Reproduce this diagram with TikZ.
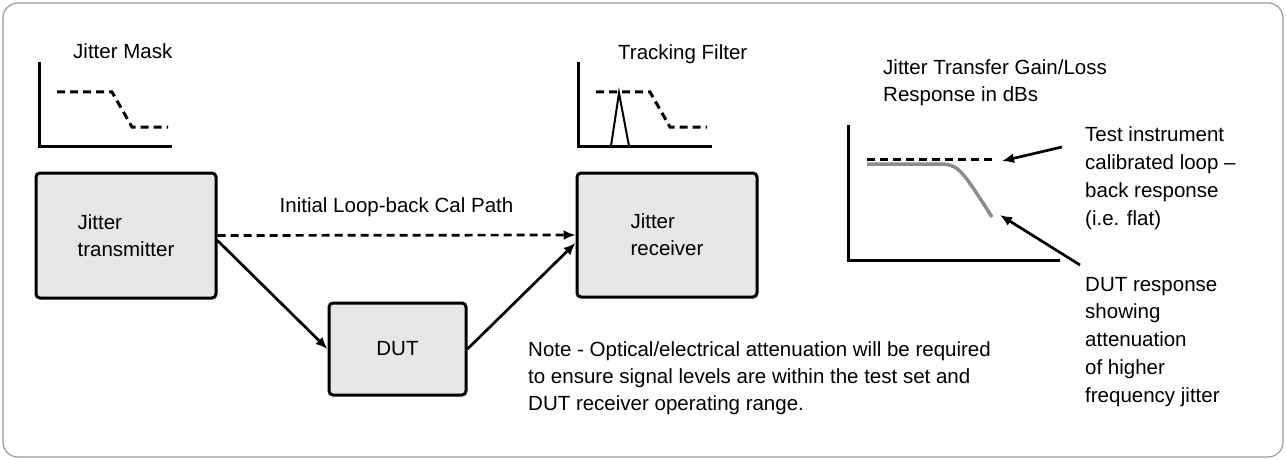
\documentclass[tikz,border=0pt]{standalone}
\usepackage{fontspec}
\setmainfont{Liberation Sans}
\usepackage{xcolor}
\usetikzlibrary{arrows.meta}
\definecolor{boxgray}{HTML}{E6E6E6}
\definecolor{framegray}{HTML}{9A9A9A}
\definecolor{curvegray}{HTML}{8C8C8C}

\begin{document}
\begin{tikzpicture}[x=1pt, y=-1pt,
    font=\fontsize{20.5}{27}\selectfont,
    unit/.style={draw, line width=3pt, rounded corners=4pt, fill=boxgray, align=left, inner sep=0pt},
    axis/.style={line width=3pt},
    maskline/.style={line width=3pt, dash pattern=on 8pt off 5pt},
    link/.style={line width=2.7pt, -{Latex[length=12pt,width=10pt]}},
    label/.style={anchor=base west, inner sep=0pt, align=left}]
  \useasboundingbox (0,0) rectangle (1286,460);
  \draw[framegray, line width=1.2pt, rounded corners=15pt] (3,3) rectangle (1283,457);

  % jitter mask
  \node[label] (masklbl) at (73,59) {Jitter Mask};
  \draw[axis] (39,62) -- (39,146) -- (172,146);
  \draw[maskline] (57,92) -- (112,92) -- (132,127) -- (168,127);

  % tracking filter
  \node[label] (filterlbl) at (618,60) {Tracking Filter};
  \draw[axis] (578,62) -- (578,146) -- (712,146);
  \draw[maskline] (596,92) -- (650,92) -- (670,127) -- (707,127);
  \draw[line width=2pt] (611,146) -- (619,93) -- (629,146);

  % blocks
  \node[unit, minimum width=180pt, minimum height=125pt] (tx) at (126,235.5) {Jitter\\transmitter};
  \node[unit, minimum width=180pt, minimum height=124pt] (rx) at (667,235) {Jitter\\receiver};
  \node[unit, minimum width=137pt, minimum height=92pt] (dut) at (397.5,349) {DUT};

  \draw[link, dash pattern=on 8pt off 5pt] (tx.east) -- node[anchor=base, yshift=23pt, inner sep=0pt] (calpath) {Initial Loop-back Cal Path} (rx.west);
  \draw[link] ([yshift=-5pt]tx.east) -- (dut.west);
  \draw[link] (dut.east) -- ([yshift=-8pt]rx.west);

  % base anchor sits on the last line
  \node[label] (note) at (528,410) {Note - Optical/electrical attenuation will be required\\to ensure signal levels are within the test set and\\DUT receiver operating range.};

  % transfer response
  \node[label] (gainlbl) at (883,102) {Jitter Transfer Gain/Loss\\Response in dBs};
  \draw[axis] (848,125) -- (848,260) -- (1060,260);
  \draw[maskline] (867,159) -- (993,159);
  \draw[curvegray, line width=3.5pt] (867,164) -- (935,164) .. controls (958,164) .. (992,217);

  \node[label, font=\fontsize{20.5}{27.7}\selectfont] (flatnote) at (1085,225) {Test instrument\\calibrated loop --\\back response\\(i.e. flat)};
  \node[label, font=\fontsize{20.5}{27.7}\selectfont] (dutnote) at (1085,402) {DUT response\\showing\\attenuation\\of higher\\frequency jitter};

  \coordinate (flattail) at (1062,147);
  \coordinate (flattip) at (1002,161);
  \coordinate (resptail) at (1080,265);
  \coordinate (resptip) at (1000,215);
  \draw[link] (flattail) -- (flattip);
  \draw[link] (resptail) -- (resptip);
\end{tikzpicture}
\end{document}
